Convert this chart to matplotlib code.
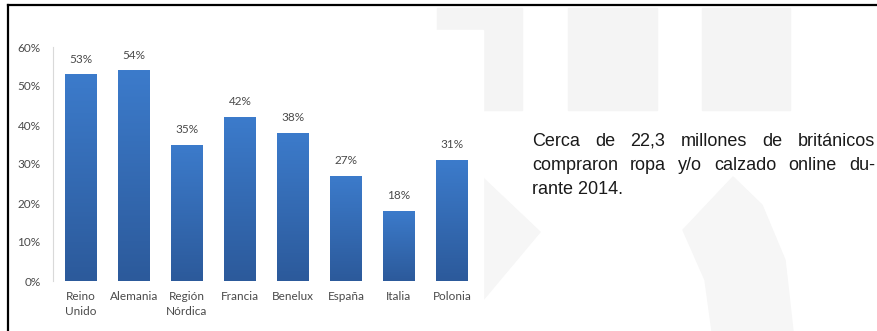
import matplotlib

matplotlib.use("Agg")
import matplotlib.pyplot as plt
import numpy as np
from matplotlib.colors import LinearSegmentedColormap
from matplotlib.patches import Rectangle, Polygon


COUNTRIES = ["Reino\nUnido", "Alemania", "Región\nNórdica", "Francia",
             "Benelux", "España", "Italia", "Polonia"]
SHARES = [53, 54, 35, 42, 38, 27, 18, 31]
Y_TICKS = [0, 10, 20, 30, 40, 50, 60]
NOTE_LINES = [
    "Cerca de 22,3 millones de británicos",
    "compraron ropa y/o calzado online du-",
    "rante 2014.",
]

W, H = 877, 331
LABEL_FONT = ["Lato", "DejaVu Sans"]
TEXT_GREY = "#4a4a4a"


def px(x, y):
    # pixel coords (top-left origin) -> figure fraction
    return x / float(W), 1 - y / float(H)


def draw_background(fig):
    wm = "#f4f4f4"
    for x0, x1 in [(437, 522), (568, 657), (702, 790)]:
        fig.patches.append(Rectangle(px(x0, 110), (x1 - x0) / W, 102 / H,
                                     transform=fig.transFigure, color=wm, zorder=0))
    fig.patches.append(Polygon([px(483, 178), px(540, 232), px(483, 300)],
                               transform=fig.transFigure, color="#f6f6f6", zorder=0))
    fig.patches.append(Polygon([px(683, 230), px(733, 177), px(762, 205), px(785, 260),
                                px(793, 331), px(712, 331), px(705, 280)],
                               transform=fig.transFigure, color="#f6f6f6", zorder=0))
    # white panel behind the chart
    fig.patches.append(Rectangle(px(10, 325), 473 / W, 295 / H,
                                 transform=fig.transFigure, color="white", zorder=1))
    # frame lines
    fig.add_artist(plt.Line2D([8 / W, 1], [1 - 5 / H] * 2, color="black", lw=1.6,
                              transform=fig.transFigure))
    fig.add_artist(plt.Line2D([8 / W] * 2, [0, 1 - 5 / H], color="black", lw=1.6,
                              transform=fig.transFigure))


def draw_bars(ax):
    xs = np.arange(len(COUNTRIES))
    vals = [v / 100.0 for v in SHARES]
    bars = ax.bar(xs, vals, width=0.59, color="#3468b0", zorder=2)
    cmap = LinearSegmentedColormap.from_list("blu", ["#2c5a9b", "#3c7bcb"])
    grad = np.linspace(0, 1, 100).reshape(-1, 1)
    for bar in bars:
        x0 = bar.get_x()
        im = ax.imshow(grad, cmap=cmap, origin="lower", aspect="auto",
                       extent=(x0, x0 + bar.get_width(), 0, bar.get_height()), zorder=3)
        im.set_clip_path(bar)
    for x, v in zip(xs, SHARES):
        ax.annotate("{0}%".format(v), xy=(x, v / 100.0), xytext=(0, 7),
                    textcoords="offset points", ha="center", va="bottom",
                    fontsize=8.5, color=TEXT_GREY, family=LABEL_FONT)

    ax.set_xlim(-0.53, len(COUNTRIES) - 0.47)
    ax.set_ylim(0, 0.6)
    ax.set_xticks(xs)
    ax.set_xticklabels(COUNTRIES, family=LABEL_FONT, fontsize=8.5, color=TEXT_GREY,
                       linespacing=1.45)
    ax.set_yticks([t / 100.0 for t in Y_TICKS])
    ax.set_yticklabels(["{0}%".format(t) for t in Y_TICKS], family=LABEL_FONT,
                       fontsize=8.5, color=TEXT_GREY)
    ax.tick_params(axis="y", length=0, pad=9)
    ax.tick_params(axis="x", length=0, pad=7)
    for side in ["top", "right", "bottom"]:
        ax.spines[side].set_visible(False)
    ax.spines["left"].set_color("#d9d9d9")
    ax.set_facecolor("none")


def draw_note(fig):
    x0, x1 = 532, 875
    baselines = [146, 170, 194]
    style = dict(fontsize=13, family="Liberation Sans", color="#1a1a1a", va="baseline")
    renderer = fig.canvas.get_renderer()
    for i, (line, yb) in enumerate(zip(NOTE_LINES, baselines)):
        if i == len(NOTE_LINES) - 1:
            fig.text(*px(x0, yb), line, **style)
            continue
        words = line.split()
        texts = [fig.text(0, 0, w, **style) for w in words]
        widths = [t.get_window_extent(renderer).width for t in texts]
        gap = (x1 - x0 - sum(widths)) / float(len(words) - 1)
        x = x0
        for t, w in zip(texts, widths):
            t.set_position(px(x, yb))
            x += w + gap


def main():
    fig = plt.figure(figsize=(W / 100.0, H / 100.0), dpi=100)
    draw_background(fig)
    ax = fig.add_axes([53 / W, 50 / H, 427 / W, 234 / H], zorder=2)
    draw_bars(ax)
    draw_note(fig)
    fig.savefig("out.png", dpi=100)
    plt.close(fig)


if __name__ == "__main__":
    main()
